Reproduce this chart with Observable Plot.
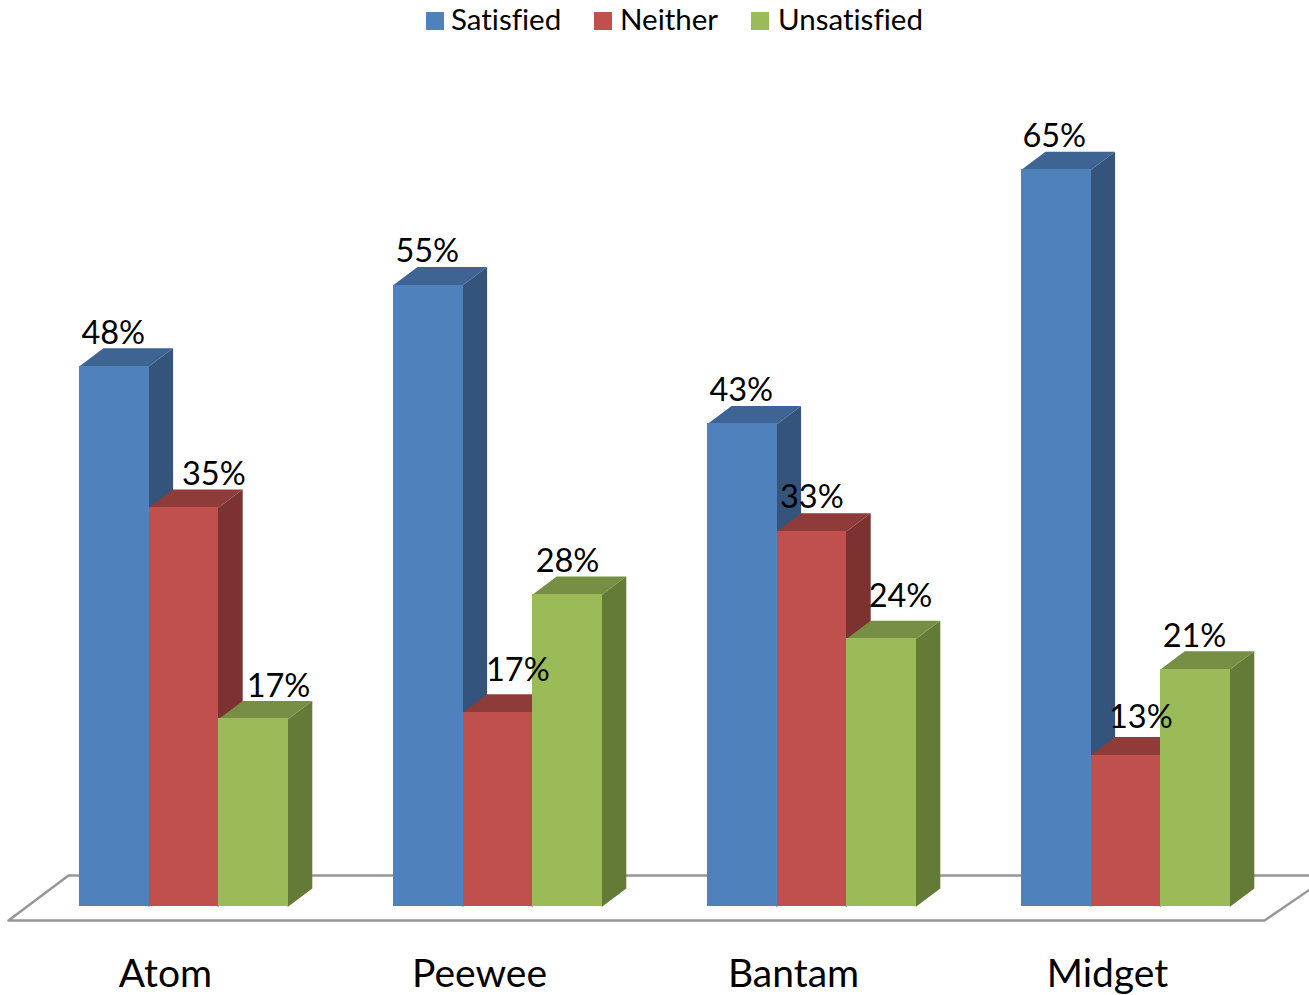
<!DOCTYPE html>
<html>
<head>
<meta charset="utf-8">
<script src="https://cdn.jsdelivr.net/npm/d3@7"></script>
<script src="https://cdn.jsdelivr.net/npm/@observablehq/plot@0.6"></script>
<style>
html,body{margin:0;padding:0;background:#fff;overflow:hidden}
#legend{position:relative;height:40px;width:1309px;font:29.5px Lato,sans-serif;color:#000;font-variant-ligatures:none}
#legend span{position:absolute;top:2px;line-height:34px;white-space:nowrap}
#legend i{position:absolute;top:12px;width:18px;height:18px}
#chart svg{display:block;font-variant-ligatures:none}
</style>
</head>
<body>
<div id="legend"></div>
<div id="chart"></div>
<script>
const categories = ["Atom", "Peewee", "Bantam", "Midget"];
const seriesNames = ["Satisfied", "Neither", "Unsatisfied"];
const satisfied = [47.8, 55.0, 42.7, 65.2];
const neither = [35.3, 17.2, 33.2, 13.4];
const unsatisfied = [16.6, 27.6, 23.7, 21.0];

// Layout (page pixels converted to scale units below)
const legendHeight = 40;
const groupStep = 314, firstBar = 79, barW = 69.6, depthX = 24, depthY = 18;
const pxPerPct = 11.3, baseline = 906 - legendHeight;
const colors = [
  {front: "#4F81BD", side: "#34547C", top: "#3E6494"},
  {front: "#C0504D", side: "#7C3230", top: "#8E3B39"},
  {front: "#9BBB59", side: "#647A37", top: "#768F44"}
];
// label nudges where the source moved a label off its bar (pixels)
const labelDx = [[-1, 30, 25], [-1, 20, 0], [-1, 0, 19], [-2, 15, -1]];
const labelDy = [[0, 0, 1], [0, -9, 0], [0, -1, -9], [0, -4, 0]];

const ux = (px) => px / groupStep;
const uy = (px) => px / pxPerPct;
const allSeries = [satisfied, neither, unsatisfied];

const bars = seriesNames.map((name, s) => categories.map((category, g) => {
  const x1 = g + ux(barW * s), x2 = x1 + ux(barW);
  return {category, name, s, g, x1, x2, value: allSeries[s][g]};
}));

// Each face tucks 1px under its bar's front so no seam shows.
const sideFaces = (rows) => rows.flatMap((b) => {
  const dx = ux(depthX), dy = uy(depthY), tuck = ux(1);
  return [[b.x2 - tuck, 0], [b.x2, 0], [b.x2 + dx, dy], [b.x2 + dx, b.value + dy], [b.x2, b.value], [b.x2 - tuck, b.value]]
    .map(([x, y]) => ({x, y, id: b.g}));
});
const topFaces = (rows) => rows.flatMap((b) => {
  const dx = ux(depthX), dy = uy(depthY), tuck = uy(1);
  return [[b.x1, b.value - tuck], [b.x1, b.value], [b.x1 + dx, b.value + dy], [b.x2 + dx, b.value + dy], [b.x2, b.value], [b.x2, b.value - tuck]]
    .map(([x, y]) => ({x, y, id: b.g}));
});

// Floor outline, from the reference's pixel corners
const floorPx = [[8, 920], [68, 875], [1330, 875], [1264, 920], [8, 920]];
const floor = floorPx.map(([px, py]) => ({x: ux(px - firstBar), y: uy(906 - py)}));

const labels = bars.flat().map((b) => ({
  x: (b.x1 + b.x2) / 2 + ux(labelDx[b.g][b.s]),
  y: b.value + uy(33 - labelDy[b.g][b.s]),
  text: d3.format(".0f")(b.value) + "%"
}));

const marks = [
  Plot.line(floor, {x: "x", y: "y", stroke: "#969696", strokeWidth: 2.4, fill: "white", curve: "linear"})
];
bars.forEach((rows, s) => {
  marks.push(
    Plot.line(sideFaces(rows), {x: "x", y: "y", z: "id", fill: colors[s].side, stroke: "none"}),
    Plot.line(topFaces(rows), {x: "x", y: "y", z: "id", fill: colors[s].top, stroke: "none"}),
    Plot.rect(rows, {x1: "x1", x2: "x2", y1: 0, y2: "value", fill: colors[s].front, shapeRendering: "crispEdges"})
  );
});
marks.push(
  Plot.text(labels, {x: "x", y: "y", text: "text", fontSize: 32.5, fill: "#000", fontFamily: "Lato, sans-serif"}),
  Plot.axisX({
    ticks: categories.map((c, i) => i + ux(86)),
    tickFormat: (t) => categories[Math.floor(t)],
    tickSize: 0,
    tickPadding: 0,
    fontSize: 39,
    anchor: "bottom",
    fontFamily: "Lato, sans-serif",
    label: null
  })
);

const svg = Plot.plot({
  width: 1309,
  height: 995 - legendHeight,
  marginTop: 0, marginLeft: 0, marginRight: 0, marginBottom: 36,
  x: {domain: [0, 1], range: [firstBar, firstBar + groupStep]},
  y: {domain: [0, 1], range: [baseline, baseline - pxPerPct], axis: null},
  style: {background: "white", color: "#000", overflow: "hidden"},
  marks
});
document.getElementById("chart").appendChild(svg);

const legend = document.getElementById("legend");
const swatchX = [426, 594, 751], textX = [451, 620, 778];
seriesNames.forEach((n, i) => {
  const sw = document.createElement("i");
  sw.style.left = swatchX[i] + "px";
  sw.style.background = colors[i].front;
  const t = document.createElement("span");
  t.style.left = textX[i] + "px";
  t.textContent = n;
  legend.append(sw, t);
});
</script>
</body>
</html>
